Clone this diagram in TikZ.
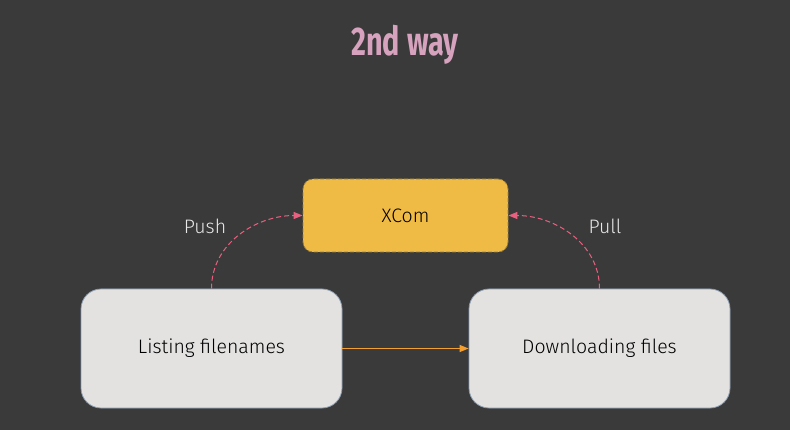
\documentclass[tikz,border=0pt]{standalone}
\usepackage{fontspec}
\setmainfont{Fira Sans Light}
\newfontfamily\titlefont{Fira Sans}
\usetikzlibrary{arrows.meta}
\definecolor{bg}{HTML}{3A3A3A}
\definecolor{titlepink}{HTML}{D6A2BE}
\definecolor{xfill}{HTML}{F0BB45}
\definecolor{xdraw}{HTML}{9C7E36}
\definecolor{boxfill}{HTML}{E3E2E1}
\definecolor{boxdraw}{HTML}{8C9DB4}
\definecolor{arrorange}{HTML}{F4A030}
\definecolor{arrpink}{HTML}{E8607F}
\definecolor{lbl}{HTML}{E8E8E8}
\tikzset{
  taskbox/.style={draw=boxdraw, fill=boxfill, rounded corners=20pt, minimum width=261pt, minimum height=119pt, line width=0.8pt, font=\fontsize{19.5}{24}\selectfont, text=black},
  xcombox/.style={draw=xdraw, fill=xfill, dash pattern=on 4pt off 2pt, rounded corners=10pt, minimum width=205pt, minimum height=73pt, line width=0.8pt, font=\fontsize{19.5}{24}\selectfont, text=black},
  flowarrow/.style={draw=arrorange, line width=1pt, -{Triangle[length=9pt,width=7pt]}},
  xarrow/.style={draw=arrpink, line width=1pt, dash pattern=on 5pt off 3pt, -{Triangle[length=9pt,width=7pt]}},
  elabel/.style={text=lbl, font=\fontsize{19.5}{24}\selectfont}
}
\begin{document}
\begin{tikzpicture}[x=1pt,y=-1pt]
\fill[bg] (0,0) rectangle (790,430);
\useasboundingbox (0,0) rectangle (790,430);
\node[text=titlepink, font=\titlefont\bfseries\fontsize{40}{44}\selectfont] (title) at (405,45) {\scalebox{0.72}[1]{2nd way}};
\node[xcombox] (xcom) at (405.5,215.5) {XCom};
\node[taskbox] (list) at (211.5,348.5) {\raisebox{-2pt}{Listing filenames}};
\node[taskbox] (down) at (599.5,348.5) {\raisebox{-2pt}{Downloading files}};
\draw[flowarrow] (list.east) -- (down.west);
\draw[xarrow] (list.north) to[out=90,in=180] (xcom.west);
\draw[xarrow] (down.north) to[out=90,in=0] (xcom.east);
\node[elabel] (push) at (205,226) {Push};
\node[elabel] (pull) at (605,226) {Pull};
\end{tikzpicture}
\end{document}
